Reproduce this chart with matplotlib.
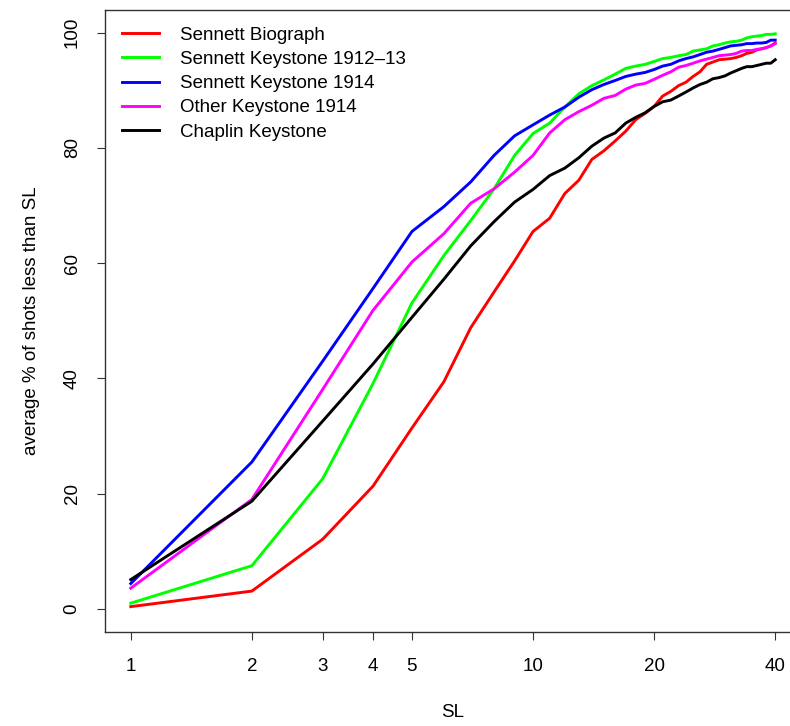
#import libraries
import numpy as np
import matplotlib.pyplot as plt

plt.rcParams['font.family'] = ['Liberation Sans', 'DejaVu Sans']

#data: average % of shots shorter than SL, for SL = 1..40 seconds
sl = np.arange(1, 41)
biograph = [0.4, 3.1, 12.1, 21.3, 31.4, 39.4, 48.8, 55.0, 60.4, 65.5,
            67.8, 72.1, 74.4, 78.0, 79.5, 81.2, 82.9, 84.9, 86.0, 87.2,
            89.0, 89.8, 90.8, 91.4, 92.4, 93.2, 94.5, 94.9, 95.3, 95.4,
            95.5, 95.7, 96.0, 96.4, 96.6, 97.0, 97.2, 97.4, 97.7, 98.2]
keystone_1912 = [1.0, 7.5, 22.6, 39.1, 53.1, 61.3, 67.4, 72.9, 78.7, 82.5,
                 84.3, 87.1, 89.4, 90.8, 91.8, 92.8, 93.8, 94.2, 94.5, 95.0,
                 95.5, 95.7, 96.0, 96.2, 96.8, 97.0, 97.2, 97.7, 97.9, 98.2,
                 98.4, 98.5, 98.7, 99.1, 99.3, 99.4, 99.5, 99.7, 99.7, 99.8]
keystone_1914 = [4.4, 25.5, 43.0, 55.6, 65.5, 69.8, 74.1, 78.7, 82.1, 84.0,
                 85.7, 87.1, 88.8, 90.1, 91.0, 91.7, 92.4, 92.8, 93.1, 93.6,
                 94.2, 94.5, 95.1, 95.5, 95.8, 96.2, 96.6, 96.8, 97.1, 97.4,
                 97.7, 97.8, 97.9, 98.1, 98.1, 98.2, 98.2, 98.3, 98.7, 98.7]
other_1914 = [3.6, 19.0, 38.1, 51.8, 60.2, 65.1, 70.4, 72.9, 75.8, 78.7,
              82.6, 84.9, 86.3, 87.4, 88.6, 89.1, 90.2, 90.9, 91.2, 91.9,
              92.6, 93.2, 94.0, 94.3, 94.7, 95.1, 95.4, 95.7, 96.0, 96.1,
              96.2, 96.4, 96.8, 96.9, 96.9, 97.1, 97.2, 97.4, 97.7, 98.1]
chaplin = [5.1, 18.7, 32.6, 42.5, 50.6, 57.2, 63.0, 67.2, 70.6, 72.8,
           75.2, 76.5, 78.3, 80.3, 81.7, 82.6, 84.3, 85.3, 86.1, 87.2,
           88.0, 88.3, 89.0, 89.7, 90.4, 91.0, 91.4, 92.0, 92.2, 92.5,
           93.0, 93.4, 93.8, 94.1, 94.1, 94.3, 94.5, 94.7, 94.7, 95.3]

labels = ["Sennett Biograph", "Sennett Keystone 1912\u201313",
          "Sennett Keystone 1914", "Other Keystone 1914", "Chaplin Keystone"]
colors = ["#ff0000", "#00ff00", "#0000ff", "#ff00ff", "#000000"]
xticks = [1, 2, 3, 4, 5, 10, 20, 40]
yticks = [0, 20, 40, 60, 80, 100]

#figure, R-like plot region (right edge falls outside the picture)
fig = plt.figure(figsize=(7.9, 7.26), dpi=100)
ax = fig.add_axes([105/790, 94/726, 696/790, 622.4/726])

for y, lab, col in zip([biograph, keystone_1912, keystone_1914, other_1914, chaplin],
                       labels, colors):
    ax.plot(sl, y, color=col, linewidth=2.1, label=lab, solid_joinstyle='round')

ax.set_xscale('log')
r = np.log10(40)
ax.set_xlim(10**(-0.04*r), 40*10**(0.04*r))
ax.set_ylim(-4, 104)
ax.set_xticks(xticks)
ax.set_xticklabels([str(t) for t in xticks])
ax.minorticks_off()
ax.set_yticks(yticks)

fs = 13.5
ax.tick_params(direction='out', length=5.5, width=0.8, labelsize=fs, color='#333333')
ax.tick_params(axis='x', pad=13)
ax.tick_params(axis='y', pad=12)
for lab in ax.get_yticklabels():
    lab.set_rotation(90)
    lab.set_va('center')
for s in ax.spines.values():
    s.set_linewidth(1.0)
    s.set_color('#333333')

ax.set_xlabel("SL", fontsize=fs, labelpad=21)
ax.set_ylabel("average % of shots less than SL", fontsize=fs, labelpad=17)

plt.legend(loc='upper left', fontsize=fs, frameon=False, handlelength=2.0,
           handletextpad=1.1, labelspacing=0.38, borderaxespad=0.5, borderpad=0.4)
plt.savefig("out.png", dpi=100)
